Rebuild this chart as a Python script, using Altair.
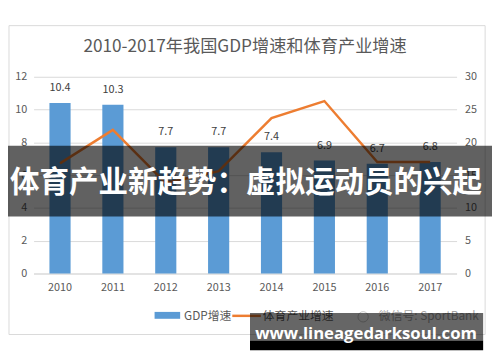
import altair as alt
import pandas as pd

years = ["2010", "2011", "2012", "2013", "2014", "2015", "2016", "2017"]
gdp_growth = [10.4, 10.3, 7.7, 7.7, 7.4, 6.9, 6.7, 6.8]
sport_growth = [16.8, 21.9, 13.8, 15.6, 23.7, 26.3, 17.0, 17.0]
left_ticks = [0, 2, 4, 6, 8, 10, 12]
right_ticks = [0, 5, 10, 15, 20, 25, 30]

title_text = "2010-2017年我国GDP增速和体育产业增速"
legend_gdp = "GDP增速"
legend_sport = "体育产业增速"
wechat_text = "微信号: SportBank"
banner_text = "体育产业新趋势：虚拟运动员的兴起"
site_text = "www.lineagedarksoul.com"

FONT = "Noto Sans CJK SC"
BLUE = "#5B9BD5"
ORANGE = "#ED7D31"
GRID = "#D9D9D9"
LABEL = "#595959"

df = pd.DataFrame({"year": years, "gdp": gdp_growth, "sport": sport_growth})
one = pd.DataFrame({"a": [0]})

xscale = alt.Scale(paddingInner=0.6, paddingOuter=0.3)
xaxis = alt.Axis(title=None, labelAngle=0, ticks=False, domain=True,
                 domainColor=GRID, labelPadding=8, labelColor=LABEL,
                 labelFontSize=11, labelFont=FONT)
xenc = alt.X("year:N", sort=years, scale=xscale, axis=xaxis)

yleft_scale = alt.Scale(domain=[0, 12], nice=False)
yleft_axis = alt.Axis(title=None, values=left_ticks, grid=True, gridColor=GRID,
                      ticks=False, domain=False, labelPadding=7, labelOverlap=False,
                      labelColor=LABEL, labelFontSize=11, labelFont=FONT)

frame = alt.Chart(one).mark_rect(fillOpacity=0, stroke=GRID, strokeWidth=1).encode(
    x=alt.value(-25), x2=alt.value(459), y=alt.value(-52), y2=alt.value(262)
)

bars = alt.Chart(df).mark_bar(color=BLUE).encode(
    x=xenc,
    y=alt.Y("gdp:Q", scale=yleft_scale, axis=yleft_axis),
)
bar_labels = alt.Chart(df).mark_text(dy=-15, fontSize=11, color="#404040", font=FONT).encode(
    x=xenc,
    y=alt.Y("gdp:Q", scale=yleft_scale, axis=yleft_axis),
    text=alt.Text("gdp:Q", format=".1f"),
)
left = alt.layer(bars, bar_labels)

line = alt.Chart(df).mark_line(color=ORANGE, strokeWidth=2.5).encode(
    x=xenc,
    y=alt.Y("sport:Q", scale=alt.Scale(domain=[0, 30], nice=False),
            axis=alt.Axis(title=None, orient="right", values=right_ticks, grid=False,
                          ticks=False, domain=False, labelPadding=8, labelOverlap=False,
                          labelColor=LABEL, labelFontSize=11, labelFont=FONT)),
)

title = alt.Chart(one).mark_text(fontSize=17.5, color=LABEL, font=FONT, baseline="middle").encode(
    x=alt.value(215), y=alt.value(-30), text=alt.value(title_text)
)

leg_box = alt.Chart(one).mark_rect(color=BLUE).encode(
    x=alt.value(123), x2=alt.value(149), y=alt.value(239), y2=alt.value(246)
)
leg_gdp = alt.Chart(one).mark_text(fontSize=12, color=LABEL, font=FONT, align="left", baseline="middle").encode(
    x=alt.value(153), y=alt.value(243), text=alt.value(legend_gdp)
)
leg_line = alt.Chart(one).mark_rule(color=ORANGE, strokeWidth=2.5).encode(
    x=alt.value(202), x2=alt.value(231), y=alt.value(243)
)
leg_sport = alt.Chart(one).mark_text(fontSize=12, color=LABEL, font=FONT, align="left", baseline="middle").encode(
    x=alt.value(233), y=alt.value(243), text=alt.value(legend_sport)
)
icon = alt.Chart(one).mark_point(shape="circle", size=110, color="#B0B0B0", strokeWidth=1).encode(
    x=alt.value(335), y=alt.value(244)
)
wechat = alt.Chart(one).mark_text(fontSize=12, color="#A6A6A6", font=FONT, align="left", baseline="middle").encode(
    x=alt.value(351), y=alt.value(243), text=alt.value(wechat_text)
)

banner = alt.Chart(one).mark_rect(color="black", opacity=0.62).encode(
    x=alt.value(-30), x2=alt.value(470), y=alt.value(70), y2=alt.value(142)
)
banner_t = alt.Chart(one).mark_text(fontSize=30, fontWeight="bold", color="white", font=FONT, baseline="middle").encode(
    x=alt.value(216), y=alt.value(108), text=alt.value(banner_text)
)

wm_gray = alt.Chart(one).mark_rect(color="black", opacity=0.6).encode(
    x=alt.value(220), x2=alt.value(457), y=alt.value(240), y2=alt.value(268)
)
wm_black = alt.Chart(one).mark_rect(color="black").encode(
    x=alt.value(220), x2=alt.value(457), y=alt.value(268), y2=alt.value(278)
)
wm_text = alt.Chart(one).mark_text(fontSize=17, fontWeight="bold", color="white", font="Open Sans", baseline="middle").encode(
    x=alt.value(338), y=alt.value(262), text=alt.value(site_text)
)

chart = alt.layer(
    frame, left, line, title, leg_box, leg_gdp, leg_line, leg_sport, icon, wechat,
    banner, banner_t, wm_gray, wm_black, wm_text
).resolve_scale(y="independent").properties(
    width=430, height=200,
    autosize=alt.AutoSizeParams(type="none"),
    padding={"left": 26, "top": 67, "right": 36, "bottom": 87},
    background="white",
).configure_view(stroke=None)

chart.save("out.html", embed_options={"renderer": "svg", "actions": False})
